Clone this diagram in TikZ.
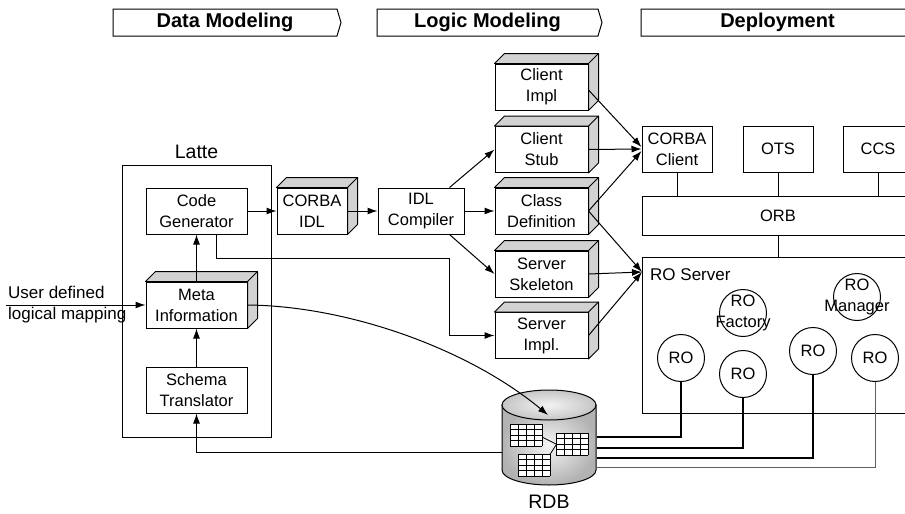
\documentclass[tikz,border=0pt]{standalone}
\usepackage{fontspec}
\setmainfont{Liberation Sans}
\usetikzlibrary{arrows.meta,calc}

% gray side and top faces of a box drawn in perspective
\newcommand\boxdepth[1]{%
  \draw[face] (#1.north west) -- ++(10,-10) -- ($(#1.north east)+(10,-10)$)
    -- ($(#1.south east)+(10,-10)$) -- (#1.south east) -- (#1.north east) -- cycle;
  \draw[line width=1pt] (#1.north east) -- ++(10,-10);}

% small relational table drawn as a grid, top-left corner given
\newcommand\dbtable[1]{%
  \begin{scope}[shift={#1}]
    \fill[white] (0,0) rectangle (32,22);
    \foreach \cx in {0,8,16,24,32} \draw[line width=0.8pt] (\cx,0) -- (\cx,22);
    \foreach \cy in {0,5.5,11,16.5,22} \draw[line width=0.8pt] (0,\cy) -- (32,\cy);
  \end{scope}}

\begin{document}
\begin{tikzpicture}[x=1pt,y=-1pt,
  every node/.style={font=\fontsize{16.5}{21}\selectfont},
  box/.style={draw, line width=1pt, fill=white, minimum width=#1,
    minimum height=46, inner sep=0pt, align=center},
  box/.default=101,
  face/.style={draw, line width=1pt, fill=gray!35, line join=round},
  arr/.style={-{Latex[length=10pt,width=7pt]}, line width=1pt},
  wire/.style={line width=1pt},
  banner/.style={draw, line width=1pt},
  head/.style={font=\bfseries\fontsize{20}{24}\selectfont},
  biglabel/.style={font=\fontsize{19.5}{24}\selectfont},
  rocirc/.style={draw, circle, line width=1pt, minimum size=47, inner sep=0pt},
  roline/.style={line width=1.5pt},
  rolinelight/.style={line width=1pt, gray!75!black}]

\useasboundingbox (0,0) rectangle (905,514);

% phase banners
\draw[banner] (113,9) -- (337,9) -- (341,22.5) -- (337,36) -- (113,36) -- cycle;
\node[head] (dm) at (225,22.5) {Data Modeling};
\draw[banner] (377,9) -- (598,9) -- (602,22.5) -- (598,36) -- (377,36) -- cycle;
\node[head] (lm) at (487.5,22.5) {Logic Modeling};
\draw[banner] (641,9) -- (914,9) -- (918,22.5) -- (914,36) -- (641,36) -- cycle;
\node[head] (dp) at (777.5,22.5) {Deployment};

% Latte tool
\draw[wire] (122,165) rectangle (271,437);
\node[biglabel] (lattelbl) at (196.5,152) {Latte};
\node[box] (cg) at (196.5,211) {Code\\Generator};
\node[box] (meta) at (196.5,305) {Meta\\Information};
\node[box] (st) at (196.5,390) {Schema\\Translator};
\node[align=left, anchor=west, inner sep=0pt, font=\fontsize{17}{21}\selectfont] (user) at (8,305) {User defined\\logical mapping};
\coordinate (uin) at (6,305);

% IDL chain
\node[box=70] (idl) at (312,211) {CORBA\\IDL};
\node[box=86] (comp) at (421,211) {IDL\\Compiler};

% generated artefacts
\node[box=93] (ci) at (541.5,87) {Client\\Impl};
\node[box=93] (cs) at (541.5,149.5) {Client\\Stub};
\node[box=93] (cd) at (541.5,211) {Class\\Definition};
\node[box=93] (ss) at (541.5,274) {Server\\Skeleton};
\node[box=93] (si) at (541.5,335.5) {Server\\Impl.};

% deployment side
\node[box=70] (cc) at (677,149) {CORBA\\Client};
\node[box=70] (ots) at (778,149) {OTS};
\node[box=70] (ccs) at (878,149) {CCS};
\node[draw, line width=1pt, minimum width=272, minimum height=39, inner sep=0pt] (orb) at (778,215.5) {ORB};
\node[draw, line width=1pt, anchor=north west, minimum width=283, minimum height=156, inner sep=0pt] (ros) at (642,257) {};
\node[anchor=west, inner sep=0pt, font=\fontsize{17}{21}\selectfont] (roslbl) at (650,275) {RO Server};

\node[rocirc] (rof) at (743,313) {};
\node[align=center, inner sep=0pt] (roftxt) at (rof) {RO\\Factory};
\node[rocirc] (rom) at (857,297) {};
\node[align=center, inner sep=0pt] (romtxt) at (rom) {RO\\Manager};
\node[rocirc] (ro1) at (681,358) {RO};
\node[rocirc] (ro2) at (743,374) {RO};
\node[rocirc] (ro3) at (813,351) {RO};
\node[rocirc] (ro4) at (875,358) {RO};

% relational database
\shade[inner color=gray!8, outer color=gray!60, draw=black, line width=1pt]
  (502,405) -- (502,470) .. controls (502,478.3) and (523,485) .. (549,485)
  .. controls (575,485) and (596,478.3) .. (596,470) -- (596,405) -- cycle;
\shade[inner color=gray!10, outer color=gray!45, draw=black, line width=1pt]
  (549,405) ellipse [x radius=47, y radius=15];
\node[minimum width=95, minimum height=100, inner sep=0pt] (rdb) at (549.5,437) {};
\node[biglabel] (rdblbl) at (549,502) {RDB};
\draw[line width=0.8pt] (542,437) -- (556,444);
\draw[line width=0.8pt] (549,456) -- (556,445);
\dbtable{(510,424)}
\dbtable{(556,433)}
\dbtable{(518,454)}
\coordinate (rdbtop) at (548,415);
\coordinate (rdbw) at (502,452);

% perspective faces
\boxdepth{meta}
\boxdepth{idl}
\boxdepth{ci}
\boxdepth{cs}
\boxdepth{cd}
\boxdepth{ss}
\boxdepth{si}

% data modelling flow
\draw[arr] (uin) -- (meta.west);
\draw[arr] (meta.north) -- (cg.south);
\draw[arr] (st.north) -- (meta.south);
\draw[arr] (rdbw) -| (st.south);
\draw[arr] (cg.east) -- (idl.west);
\draw[arr] (meta.east) .. controls (350,306) and (470,350) .. (rdbtop);

% logic modelling flow
\draw[arr] (idl.east) -- (comp.west);
\draw[arr] (comp.east) -- (cd.west);
\draw[arr] ([xshift=-15pt]comp.north east) -- (cs.west);
\draw[arr] ([xshift=-15pt]comp.south east) -- (ss.west);
\coordinate (bend) at (449,258);
\draw[arr] ([xshift=19.5pt]cg.south) |- (bend) |- (si.west);

% deployment links
\draw[arr] ([yshift=-3pt]ci.east) -- ([yshift=2pt]cc.west);
\draw[arr] (cs.east) -- (cc.west);
\draw[arr] (cd.east) -- ([yshift=-2pt]cc.west);
\draw[arr] (cd.east) -- ([yshift=-15pt]ros.north west);
\draw[arr] (ss.east) -- ([yshift=-15pt]ros.north west);
\draw[arr] (si.east) -- ([yshift=-15pt]ros.north west);

\draw[wire] (cc.south) -- (cc.south |- orb.north);
\draw[wire] (ots.south) -- (ots.south |- orb.north);
\draw[wire] (ccs.south) -- (ccs.south |- orb.north);
\draw[wire] (orb.south) -- (orb.south |- ros.north);

% persistent objects bound to the database
\draw[roline] (ro1.south) |- (rdb.east);
\draw[roline] (ro2.south) |- ($(rdb.east)+(0,11)$);
\draw[roline] (ro3.south) |- ($(rdb.east)+(0,21)$);
\draw[rolinelight] (ro4.south) |- ($(rdb.east)+(0,30)$);

\end{tikzpicture}
\end{document}
